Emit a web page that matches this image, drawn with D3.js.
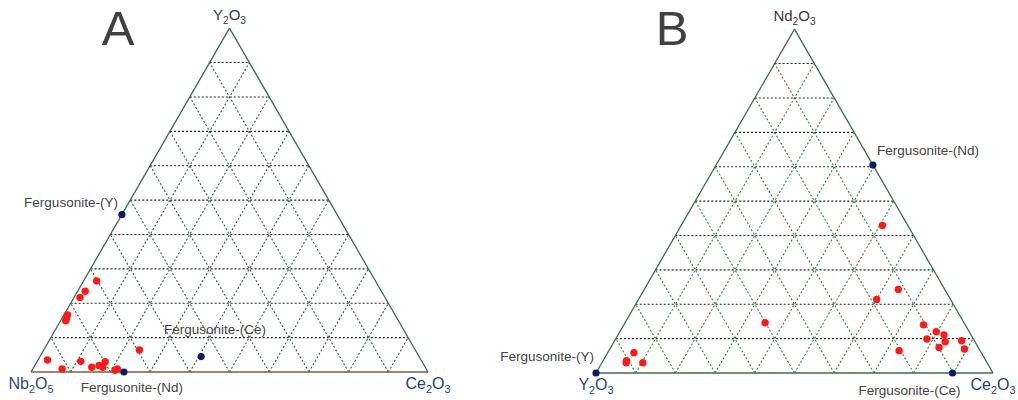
<!DOCTYPE html>
<html>
<head>
<meta charset="utf-8">
<script src="https://cdn.jsdelivr.net/npm/d3@7"></script>
<style>
  html, body { margin: 0; padding: 0; background: #fff; }
  svg { display: block; font-family: "Liberation Sans", Arial, sans-serif; }
</style>
</head>
<body>
<svg id="chart" width="1018" height="400"></svg>
<script>
// ---- Data: compositions in wt% as [top component, right component]; left = 100 - top - right ----

// Panel A: Nb2O5 (left) – Ce2O3 (right) – Y2O3 (top)
const aVertexLabels = [["Nb", "2", "O", "5"], ["Ce", "2", "O", "3"], ["Y", "2", "O", "3"]];
const aSamples = [
  [26.5, 3.3], [23.5, 1.9], [21.7, 1.5], [16.6, 0.9], [15.7, 1.1], [14.9, 1.3],
  [3.5, 2.4], [0.9, 7.4], [3.1, 11.0], [1.4, 14.6], [1.9, 16.2], [3.0, 17.2],
  [1.4, 17.4], [0.5, 20.9], [0.9, 21.3], [6.4, 24.1]
];
const aReferenceNames = ["Fergusonite-(Y)", "Fergusonite-(Nd)", "Fergusonite-(Ce)"];
const aReference = [[45.8, 0.0], [0.0, 23.4], [4.5, 40.6]];

// Panel B: Y2O3 (left) – Ce2O3 (right) – Nd2O3 (top)
const bVertexLabels = [["Y", "2", "O", "3"], ["Ce", "2", "O", "3"], ["Nd", "2", "O", "3"]];
const bSamples = [
  [5.9, 6.6], [3.6, 5.9], [3.0, 6.1], [3.0, 10.3], [14.6, 35.3], [42.9, 50.7],
  [24.3, 64.0], [21.4, 60.0], [14.0, 75.5], [12.0, 79.7], [11.1, 82.1], [9.9, 78.4],
  [9.1, 83.4], [7.4, 82.7], [9.4, 87.4], [7.0, 89.3], [6.5, 73.1]
];
const bReferenceNames = ["Fergusonite-(Y)", "Fergusonite-(Nd)", "Fergusonite-(Ce)"];
const bReference = [[0.0, 0.0], [60.5, 39.5], [0.0, 89.8]];

const gridSteps = d3.range(10, 100, 10);

// ---- Drawing ----
const svg = d3.select("#chart");

function ternaryPanel(opts) {
  const { x0, side, base, letter, letterX, vertexLabels, samples, refNames, refPts, labelOffsets, bottomColor, slantColor } = opts;
  const height = side * Math.sqrt(3) / 2;
  // horizontal position from (right + top/2), vertical from top
  const xs = d3.scaleLinear().domain([0, 100]).range([x0, x0 + side]);
  const ys = d3.scaleLinear().domain([0, 100]).range([base, base - height]);
  const proj = (top, right) => [xs(right + top / 2), ys(top)];

  const g = svg.append("g");
  const line = d3.line();

  // grid: constant top (horizontal), constant right, constant left
  gridSteps.forEach(v => {
    g.append("path").attr("d", line([proj(v, 0), proj(v, 100 - v)]))
      .attr("stroke", "#1f2a22").attr("stroke-width", 1.1).attr("stroke-dasharray", "2,2").attr("fill", "none");
    g.append("path").attr("d", line([proj(0, v), proj(100 - v, v)]))
      .attr("stroke", slantColor).attr("stroke-width", 1.1).attr("stroke-dasharray", "2,2").attr("fill", "none");
    g.append("path").attr("d", line([proj(0, 100 - v), proj(100 - v, 0)]))
      .attr("stroke", slantColor).attr("stroke-width", 1.1).attr("stroke-dasharray", "2,2").attr("fill", "none");
  });

  // outline
  const L = proj(0, 0), R = proj(0, 100), T = proj(100, 0);
  g.append("path").attr("d", line([L, T])).attr("stroke", "#3d6b55").attr("stroke-width", 1.3).attr("fill", "none");
  g.append("path").attr("d", line([T, R])).attr("stroke", "#3d6b55").attr("stroke-width", 1.3).attr("fill", "none");
  g.append("path").attr("d", line([L, R])).attr("stroke", bottomColor).attr("stroke-width", 1.3).attr("fill", "none");

  // vertex labels with subscripts
  const vpos = [[L[0], L[1] + 17, "#2b4a80", 16], [R[0], R[1] + 17, "#24407a", 16], [T[0], T[1] - 8, "#3a3a3a", 15]];
  vertexLabels.forEach((parts, i) => {
    const [vx, vy, col, fs] = vpos[i];
    const t = g.append("text").attr("x", vx).attr("y", vy).attr("text-anchor", "middle")
      .attr("fill", col).attr("font-size", fs);
    t.append("tspan").text(parts[0]);
    t.append("tspan").text(parts[1]).attr("font-size", fs * 0.68).attr("dy", 4);
    t.append("tspan").text(parts[2]).attr("dy", -4);
    t.append("tspan").text(parts[3]).attr("font-size", fs * 0.68).attr("dy", 4);
  });

  // panel letter
  svg.append("text").attr("x", letterX).attr("y", 45).attr("text-anchor", "middle")
    .attr("font-size", 49).attr("fill", "#404040").text(letter);

  // sample points
  g.selectAll("circle.sample").data(samples).join("circle").attr("class", "sample")
    .attr("cx", d => proj(d[0], d[1])[0]).attr("cy", d => proj(d[0], d[1])[1])
    .attr("r", 3.7).attr("fill", "#ff1a1a");

  // reference end-members
  g.selectAll("circle.ref").data(refPts).join("circle").attr("class", "ref")
    .attr("cx", d => proj(d[0], d[1])[0]).attr("cy", d => proj(d[0], d[1])[1])
    .attr("r", 3.6).attr("fill", "#0b1a66");

  refPts.forEach((d, i) => {
    const p = proj(d[0], d[1]);
    const [dx, dy, anchor] = labelOffsets[i];
    g.append("text").attr("x", p[0] + dx).attr("y", p[1] + dy).attr("text-anchor", anchor)
      .attr("font-size", 13.5).attr("fill", "#444").text(refNames[i]);
  });
}

ternaryPanel({
  x0: 31, side: 397, base: 372, letter: "A", letterX: 118,
  vertexLabels: aVertexLabels, samples: aSamples, refNames: aReferenceNames, refPts: aReference,
  labelOffsets: [[-4, -8, "end"], [8, 20, "middle"], [14, -23, "middle"]],
  bottomColor: "#7d5c40", slantColor: "#3c5e4a"
});

ternaryPanel({
  x0: 596, side: 397, base: 373, letter: "B", letterX: 672,
  vertexLabels: bVertexLabels, samples: bSamples, refNames: bReferenceNames, refPts: bReference,
  labelOffsets: [[-2, -12, "end"], [4, -10, "start"], [-43, 22, "middle"]],
  bottomColor: "#3d6b4a", slantColor: "#3f7d48"
});
</script>
</body>
</html>
